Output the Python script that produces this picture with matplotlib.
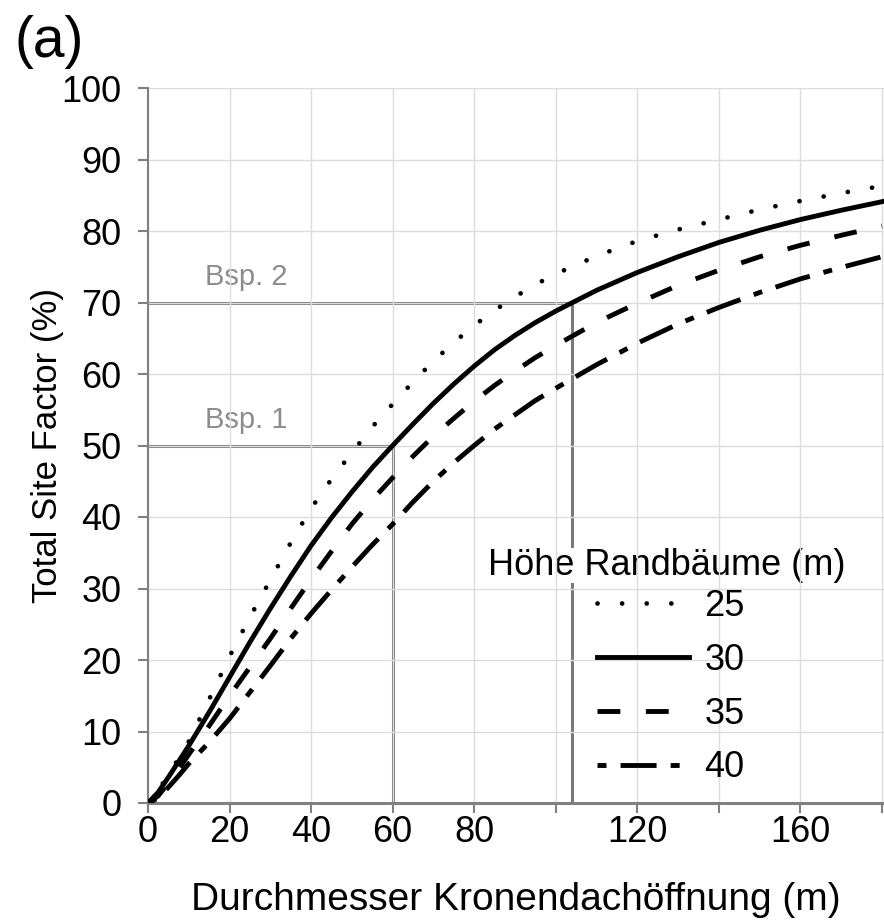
import matplotlib
matplotlib.use('Agg')
import matplotlib.pyplot as plt

plt.rcParams['font.family'] = ['Liberation Sans', 'DejaVu Sans']

# Durchmesser der Kronendachöffnung (m)
durchmesser = [0, 2.5, 5, 7.5, 10, 15, 20, 25, 30, 35, 40, 45, 50, 55, 60, 65,
               70, 75, 80, 85, 90, 95, 100, 110, 120, 130, 140, 150, 160, 170, 180]

# Total Site Factor (%) je Höhe der Randbäume
tsf_25 = [0, 1.7, 4.0, 6.2, 8.6, 14.5, 20.5, 26.0, 31.2, 36.4, 41.2, 45.3, 49.0,
          52.6, 55.8, 58.9, 61.8, 64.4, 66.8, 68.9, 70.8, 72.5, 74.0, 76.5,
          78.6, 80.2, 81.6, 83.0, 84.2, 85.3, 86.3]
tsf_30 = [0, 1.5, 3.6, 5.8, 8.0, 12.7, 17.6, 22.5, 27.2, 31.7, 36.0, 39.9, 43.5,
          46.9, 50.0, 53.0, 55.9, 58.6, 61.1, 63.4, 65.4, 67.2, 68.8, 71.7,
          74.2, 76.4, 78.4, 80.1, 81.6, 82.9, 84.1]
tsf_35 = [0, 1.0, 2.8, 4.7, 6.8, 10.8, 15.0, 19.0, 23.0, 27.2, 31.3, 35.2, 39.0,
          42.4, 45.5, 48.5, 51.3, 53.8, 56.2, 58.4, 60.4, 62.3, 64.0, 67.2,
          69.9, 72.4, 74.5, 76.4, 78.0, 79.4, 80.7]
tsf_40 = [0, 0.7, 2.2, 3.8, 5.5, 8.5, 11.8, 15.5, 19.2, 23.0, 26.5, 29.8, 33.0,
          36.1, 39.0, 42.1, 45.0, 47.6, 50.0, 52.3, 54.3, 56.3, 58.0, 61.3,
          64.3, 67.0, 69.3, 71.4, 73.3, 74.9, 76.4]
hoehen = ['25', '30', '35', '40']

# Ablesebeispiele (Durchmesser, TSF)
bsp_x = [60, 104]
bsp_y = [50, 70]
bsp_labels = ['Bsp. 1', 'Bsp. 2']

x_ticks = [0, 20, 40, 60, 80, 100, 120, 140, 160, 180]
x_ticklabels = ['0', '20', '40', '60', '80', '', '120', '', '160', '']
y_ticks = [0, 10, 20, 30, 40, 50, 60, 70, 80, 90, 100]

styles = [
    dict(linestyle=(0, (0.01, 5.2)), dash_capstyle='round', lw=3.4),
    dict(linestyle='-', lw=3.5),
    dict(linestyle=(0, (4.7, 5.25)), lw=3.5),
    dict(linestyle=(0, (1.85, 2.9, 7.4, 2.9)), lw=3.5),
]

fig = plt.figure(figsize=(8.84, 9.22), dpi=100)
ax = fig.add_axes([148 / 884, 1 - 803 / 922, (884 - 148) / 884, (803 - 88) / 922])
ax.set_xlim(0, 180.5)
ax.set_ylim(0, 100)

# grid sits above the example lines and the legend title box
ax.set_axisbelow('line')
ax.grid(True, color='#dcdcdc', lw=1.0)

for bx, by, lab in zip(bsp_x, bsp_y, bsp_labels):
    ax.plot([0, bx, bx], [by, by, 0], color='#7a7a7a', lw=2.2, zorder=1)
    ax.text(14, by + 1.6, lab, color='#8c8c8c', fontsize=21, va='bottom', zorder=1)

for ys, lab, st in zip([tsf_25, tsf_30, tsf_35, tsf_40], hoehen, styles):
    ax.plot(durchmesser, ys, color='black', label=lab, zorder=3, **st)

for side in ['top', 'right']:
    ax.spines[side].set_visible(False)
ax.spines['left'].set_color('#808080')
ax.spines['left'].set_linewidth(1.5)
ax.spines['bottom'].set_color('#808080')
ax.spines['bottom'].set_linewidth(2.2)

ax.set_xticks(x_ticks)
ax.set_xticklabels(x_ticklabels)
ax.set_yticks(y_ticks)
ax.tick_params(color='#808080', labelcolor='black', labelsize=26,
               length=7, width=1.5, direction='out')
ax.tick_params(axis='y', pad=12)
ax.tick_params(axis='x', pad=2)

ax.set_xlabel('Durchmesser Kronendachöffnung (m)', fontsize=28, labelpad=23)
ax.set_ylabel('Total Site Factor (%)', fontsize=25, labelpad=-2)

# legend title as its own text with a white box
ax.text(667 / 884, 1 - 575 / 922, 'Höhe Randbäume (m)', transform=fig.transFigure,
        fontsize=26, ha='center', va='baseline', zorder=1.2,
        bbox=dict(facecolor='white', edgecolor='none', pad=0))
ax.legend(loc='upper center', bbox_to_anchor=(671 / 884, 1 - 589 / 922),
          bbox_transform=fig.transFigure, frameon=False,
          fontsize=26, handlelength=2.55, handletextpad=0.42,
          labelspacing=0.52, borderpad=0, borderaxespad=0)

fig.text(15 / 884, 1 - 42 / 922, '(a)', fontsize=41, va='center', ha='left')

fig.savefig('out.png', dpi=100)
